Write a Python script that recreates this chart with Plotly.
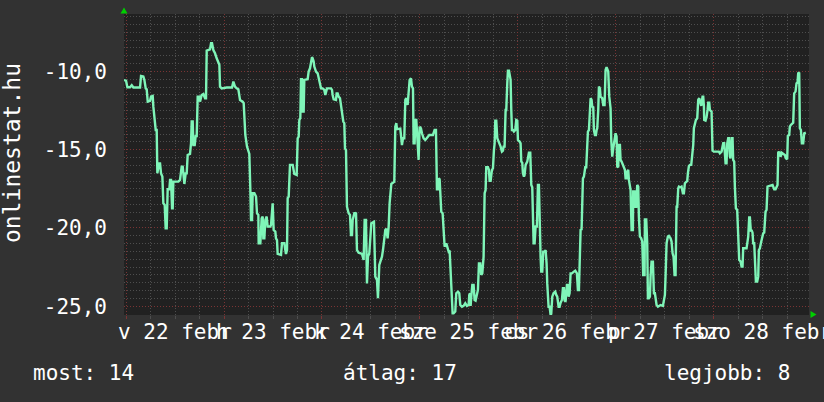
import pandas as pd
import plotly.graph_objects as go

# hours since 2015-02-22 00:00
hours = [
    -0.5, 0, 0.33, 0.98, 1.39, 1.8, 3.43, 3.67, 4.24, 4.49, 4.82, 5.06, 5.31, 5.88, 6.12, 6.53, 6.69, 6.94,
    7.27, 7.51, 7.67, 8.08, 8.33, 8.57, 8.9, 9.14, 9.47, 9.71, 9.96, 10.2, 10.61, 10.78, 11.02, 11.27, 11.43,
    11.59, 12.82, 13.22, 13.63, 13.88, 14.04, 14.29, 14.61, 14.86, 15.1, 15.67, 15.92, 16.08, 16.33, 16.49,
    16.82, 17.06, 17.31, 17.55, 17.96, 18.12, 18.53, 18.94, 19.35, 19.59, 19.76, 20.16, 20.57, 20.82, 21.06,
    21.39, 21.8, 22.2, 22.61, 22.86, 23.02, 23.43, 24.65, 25.96, 26.29, 26.69, 27.1, 27.51, 27.92,
    28.57, 28.82, 28.98, 29.22, 29.63, 29.96, 30.2, 30.45, 30.61, 30.86, 31.02, 31.43, 31.84, 32.08, 32.41,
    32.49, 32.9, 33.22, 33.47, 33.63, 33.88, 34.12, 34.45, 34.69, 35.35, 35.51, 35.76, 35.92, 36.16, 36.57,
    36.73, 36.98, 37.14, 37.96, 38.2, 38.78, 39.02, 39.18, 39.43, 39.59, 39.84, 40.16, 40.82, 41.22, 41.8,
    42.04, 42.29, 42.45, 42.69, 42.86, 43.1, 43.27, 43.51, 43.67, 44.49, 44.73, 45.06, 45.31, 45.55, 45.71,
    45.96, 46.12, 46.53, 46.94, 47.35, 47.76, 48.16, 48.57, 48.82, 48.98, 49.22, 50.2, 50.45, 50.61, 50.86,
    51.43, 51.59, 51.84, 52.08, 52.41, 52.65, 52.9, 53.22, 53.47, 53.63, 53.88, 54.12, 54.53, 54.86, 55.1,
    55.35, 55.51, 55.92, 56.16,
    56.33, 56.57, 56.98, 57.8, 58.2, 58.45, 58.78, 59.02, 59.27, 59.59, 59.84, 60.08, 60.73, 61.06, 61.47,
    61.71, 62.04, 62.29, 62.69, 62.94, 63.27, 63.51, 63.76, 64.08, 64.33, 64.57, 64.98, 65.31, 65.71, 65.96,
    66.2, 66.37, 67.18, 67.43, 67.59, 67.84, 68.16, 68.41, 68.65, 68.98, 69.22, 69.47, 69.8, 70.04, 70.29,
    70.45, 70.69, 70.86, 71.1, 71.35, 71.51, 71.67, 71.92, 72.24, 72.49, 72.9, 73.31, 73.96, 74.29, 75.18,
    75.59, 75.92, 76.16, 76.41, 76.57, 76.82, 76.98, 77.22, 77.55, 77.8, 78.04, 78.45, 78.78, 79.02, 79.27,
    79.67, 80.0, 80.24, 80.65, 80.9, 81.31, 81.63, 81.88, 82.29, 82.69, 83.1, 83.51, 83.92, 84.08, 84.33,
    84.41, 84.57, 84.82, 85.14, 85.39, 85.63, 85.96, 86.2, 86.45, 86.78, 87.02, 87.27, 87.59, 87.84, 88.08,
    88.24, 88.65, 88.9, 89.06, 89.31, 89.63, 89.88, 90.12, 90.29, 90.45, 90.69, 90.94, 91.27, 91.51, 91.76,
    92.08, 92.33, 92.49, 92.73, 92.98, 93.14, 93.39, 93.55, 93.8, 94.04, 94.2, 94.37, 94.53, 94.78, 95.02,
    95.35, 95.59, 95.84, 96.0, 96.41, 96.65, 96.82, 97.06, 97.22, 97.47, 97.63, 97.88, 98.29, 98.69, 99.02,
    99.27, 99.51, 99.67, 99.84, 100.08, 100.33, 100.65, 100.9, 101.14, 101.31, 101.55, 101.71, 101.96,
    102.2, 102.53, 102.78, 103.02, 103.18, 103.51, 103.76, 104.0, 104.16, 104.41, 104.73, 105.14, 105.39,
    105.63, 105.96, 106.2, 106.45, 106.78, 107.02, 107.27, 107.43, 107.67, 108.0, 108.24, 108.41, 108.65,
    108.9, 109.22, 109.71, 110.04, 110.45, 110.69, 110.94, 111.1, 111.35, 111.59, 111.92, 112.16, 112.49,
    112.73,
    112.82, 113.14, 113.39, 113.63, 113.8, 114.04, 114.2, 114.45, 114.61, 114.86, 115.1, 115.27, 115.43,
    115.67, 115.84, 116.08, 116.24, 116.65, 116.9, 117.22, 117.47, 117.71, 117.88, 118.12, 118.37, 118.69,
    118.86, 119.1, 119.35, 119.67, 119.92, 120.16, 120.33, 120.57, 120.73, 120.98, 121.14, 121.39, 121.71,
    121.96, 122.2, 122.37, 122.61, 122.78, 123.02, 123.18, 123.43, 123.59, 123.84, 124.16, 124.24, 124.57,
    124.73, 124.98, 125.22, 125.47, 125.63, 125.88, 126.2, 126.45, 126.69, 127.02, 127.1, 127.43, 127.67,
    127.84, 128.08, 128.33, 128.49, 128.73, 129.06, 129.31, 129.55, 129.71, 129.96, 130.29, 130.94, 131.51,
    131.76, 132.0, 132.16, 132.41, 132.73, 132.98, 133.39, 133.63, 133.88, 134.12, 134.37, 134.61, 134.86,
    135.02, 135.27, 135.43, 135.84, 136.08, 136.41, 136.65, 136.9, 137.22, 137.47, 137.63, 137.88, 138.12,
    138.45, 138.69, 138.94, 139.1, 139.35, 139.59, 139.92, 140.16, 140.41, 140.73, 140.9,
    141.22, 141.39, 141.55, 141.63, 141.96, 142.2, 142.45, 142.61, 142.86, 143.02, 143.43, 143.67, 144.0,
    144.65, 145.22, 145.47, 145.88, 146.12, 146.29, 146.53, 146.69, 146.86, 147.1, 147.27, 147.51, 147.67,
    147.92, 148.08, 148.33, 148.57, 148.73, 148.98, 149.14, 149.39, 149.71, 149.96, 150.2, 150.53, 150.78,
    151.02, 151.18, 152.0, 152.24, 152.41, 152.65, 152.82, 153.06, 153.22, 153.47, 153.63, 153.88, 154.04,
    154.29, 154.61, 154.86, 155.02, 155.27, 155.51, 155.84, 156.08, 156.33, 156.65, 156.9, 157.14, 157.47,
    158.12, 158.37, 158.53, 158.78, 159.1, 159.35, 159.59, 159.76, 159.92, 160.16, 160.41, 160.57, 160.98,
    161.39, 161.63, 161.96, 162.12, 162.45, 162.61, 162.86, 163.43, 163.67, 164.0, 164.24, 164.49, 164.65,
    164.9, 165.06, 165.31, 165.55, 165.88, 166.12, 166.53,
]

values = [
    -10.55, -10.59, -11.01, -11.01, -10.88, -11.03, -11.03, -10.29, -10.33, -10.54, -11.08, -11.14, -11.93,
    -11.88, -11.61, -11.57, -12.25, -12.84, -13.74, -13.74, -16.51, -15.87, -15.87, -16.51, -16.72, -18.42,
    -18.53, -20.02, -20.02, -17.53, -17.53, -16.93, -16.93, -18.74, -18.74, -17.04, -17.04, -16.93, -16.08,
    -16.08, -16.83, -17.19, -16.51, -16.51, -15.34, -15.27, -14.59, -13.2, -13.2, -14.7, -14.7, -14.12,
    -14.12, -11.61, -11.61, -11.93, -11.5, -11.44, -11.71, -11.71, -8.67, -8.63, -8.59, -8.2, -8.2, -8.63,
    -8.84, -9.16, -9.48, -9.58, -10.97, -11.08, -11.03, -11.03, -10.65, -10.97, -11.08, -11.14, -11.82,
    -11.93, -12.03, -12.89, -14.06, -14.8, -15.12, -15.27, -17.57, -19.49, -19.49, -17.78, -17.78, -17.99,
    -19.06, -19.17, -20.98, -20.98, -19.38, -19.27, -20.66, -20.66, -19.49, -19.27, -19.91, -19.91, -19.81,
    -18.42, -18.42, -20.13, -20.23, -20.66, -20.77, -21.66, -21.72, -20.98, -20.98, -21.41, -21.66, -21.41,
    -18.1, -18.0, -15.97, -15.97, -16.55, -16.61, -14.27, -14.16, -13.1, -12.99, -10.5, -10.5, -12.57,
    -12.57, -10.54, -10.5, -10.01, -9.8, -9.48, -9.09, -9.16, -9.37, -9.69, -10.01, -10.12, -10.54, -11.08,
    -11.08, -11.18, -11.5, -11.29, -11.08, -11.08, -11.18, -11.5, -11.78, -11.82, -11.4, -11.4, -11.61,
    -11.71, -12.14, -12.46, -13.2, -13.31, -14.91, -15.02, -18.64, -19.06, -19.17, -20.45, -20.45, -19.49,
    -19.06, -19.06,
    -19.02, -21.41, -21.58, -21.66, -22.04, -19.49, -19.49, -23.54, -21.83, -21.62, -20.34, -19.7, -19.6,
    -23.11, -23.32, -24.49, -22.36, -22.15, -21.83, -21.41, -20.55, -20.13, -20.04, -20.66, -19.91, -18.42,
    -17.19, -17.1, -17.04, -13.53, -13.31, -13.69, -13.65, -14.27, -14.7, -14.27, -14.27, -11.82, -11.71,
    -12.14, -11.5, -10.54, -10.44, -10.97, -11.08, -14.59, -14.59, -13.1, -13.1, -14.59, -15.65, -15.65,
    -13.53, -13.63, -13.95, -14.27, -14.38, -14.16, -14.06, -14.06, -13.74, -13.74, -17.53, -17.53, -16.82,
    -16.89, -17.57, -18.96, -19.06, -20.02, -21.19, -20.98, -21.3, -21.51, -21.45, -23.75, -25.45, -25.45,
    -25.34, -24.17, -24.07, -24.17, -24.92, -25.03, -24.98, -24.81, -24.98, -24.92, -24.28, -24.17,
    -24.98, -24.39, -23.64, -23.64, -24.6, -24.64, -24.17, -23.96, -22.26, -22.26, -23.0, -22.9, -21.83,
    -17.78, -17.57, -16.12, -16.12, -16.29, -16.98, -16.98, -16.29, -16.19, -15.02, -14.59, -13.14, -13.14,
    -14.27, -14.48, -14.7, -14.8, -15.12, -15.06, -14.8, -14.8, -12.46, -12.46, -10.76, -9.95, -9.95,
    -10.54, -10.54, -12.46, -13.74, -13.74, -13.84, -13.74, -13.1, -13.14, -14.38, -14.48, -14.59, -15.76,
    -15.83, -16.51, -16.72, -16.61, -15.97, -15.76, -15.19, -15.19, -17.25, -17.4, -18.96, -20.98, -20.98,
    -19.91, -19.91, -17.25, -17.25, -19.91, -21.83, -22.79, -22.79, -21.51, -21.51, -21.41, -22.26, -23.54,
    -25.03, -25.03, -25.56, -25.49, -24.39, -24.17, -24.07, -24.28, -24.39, -25.03, -25.03, -24.77, -24.6,
    -23.85, -23.85, -24.64, -24.71, -23.64, -23.64, -24.39, -24.17, -22.9, -22.9, -22.79, -22.73, -22.9,
    -23.96, -23.96, -22.26, -20.13, -20.09, -16.83, -16.72, -16.12, -16.12,
    -15.23, -13.84, -13.74, -12.67, -11.71, -11.82, -12.25, -12.29, -13.74, -14.06, -14.06, -13.74, -13.63,
    -12.46, -10.97, -11.08, -11.61, -11.71, -12.14, -12.14, -9.9, -9.73, -9.9, -10.01, -11.61, -12.35,
    -14.38, -15.44, -14.91, -14.48, -13.95, -14.16, -16.08, -16.12, -14.7, -14.7, -15.65, -15.76, -15.97,
    -16.08, -16.29, -16.83, -16.83, -16.4, -16.29, -16.93, -17.46, -17.57, -20.13, -20.13, -17.67, -17.67,
    -18.64, -18.64, -17.25, -17.36, -19.28, -20.55, -20.66, -20.87, -23.0, -23.0, -19.45, -19.45, -20.98,
    -24.49, -24.49, -24.39, -23.11, -22.15, -22.15, -24.17, -24.17, -24.6, -24.92, -25.03, -24.92, -24.98,
    -24.49, -24.28, -23.11, -20.98, -20.55, -20.51, -20.66, -20.87, -21.62, -21.83, -23.0, -23.0, -18.64,
    -18.64, -17.46, -17.36, -17.4, -17.36, -17.78, -17.78, -17.14, -17.04, -16.99, -16.51, -16.04, -15.97,
    -15.97, -15.34, -14.7, -13.63, -13.2, -13.1, -12.99, -11.82, -11.71, -12.03, -12.2,
    -11.61, -11.61, -12.2, -13.1, -13.14, -12.93, -12.46, -11.99, -11.99, -12.46, -12.57, -15.06, -15.12,
    -15.12, -15.12, -15.23, -15.12, -14.8, -14.59, -14.59, -15.23, -15.87, -15.87, -14.59, -14.27, -14.27,
    -15.44, -15.55, -14.27, -14.27, -15.65, -15.76, -17.36, -18.74, -18.85, -20.13, -22.04, -22.15, -22.47,
    -22.47, -21.3, -21.3, -20.98, -20.55, -19.32, -19.32, -20.23, -20.13, -20.3, -20.98, -20.98, -22.04,
    -23.43, -23.43, -23.11, -21.41, -21.3, -20.98, -20.55, -20.34, -20.3, -18.96, -18.85, -17.36, -17.32,
    -17.25, -17.25, -17.36, -17.53, -17.53, -17.36, -17.25, -15.19, -15.12, -15.34, -15.44, -15.19, -15.27,
    -15.34, -15.55, -15.61, -14.12, -14.06, -13.53, -13.42, -13.27, -11.4, -11.29, -10.76, -10.71, -10.12,
    -10.07, -13.63, -13.74, -14.59, -14.59, -13.95, -13.91,
]

day_labels = ["v 22 febr", "h 23 febr", "k 24 febr", "sze 25 febr", "cs 26 febr", "p 27 febr", "szo 28 febr"]
y_tick_vals = [-25, -20, -15, -10]
y_tick_text = ["-25,0", "-20,0", "-15,0", "-10,0"]
stats_labels = ["most: 14", "átlag: 17", "legjobb: 8"]
y_title = "onlinestat.hu"

base = pd.Timestamp("2015-02-22 00:00")
times = [base + pd.Timedelta(hours=h) for h in hours]

FONT = "DejaVu Sans Mono"
FS = 21
BG = "#323232"
PLOT_BG = "#212121"
LINE = "#7ff5b8"
MINOR = "#4e4e4e"
MAJOR = "#7a3434"

fig = go.Figure()
fig.add_trace(go.Scatter(x=times, y=values, mode="lines",
                         line=dict(color=LINE, width=2.4), hoverinfo="skip"))

W, H = 824, 402
L, R, T, B = 124, 15, 14, 87
pw, ph = W - L - R, H - T - B

def px(x):
    return (x - L) / pw

def py(y):
    return (H - B - y) / ph

x_start = base + pd.Timedelta(hours=-0.5)
x_end = base + pd.Timedelta(hours=167.3)

fig.update_layout(
    width=W, height=H,
    margin=dict(l=L, r=R, t=T, b=B),
    paper_bgcolor=BG, plot_bgcolor=PLOT_BG,
    showlegend=False,
    font=dict(family=FONT, color="white", size=FS),
    xaxis=dict(
        type="date", range=[x_start, x_end],
        tick0=base, dtick=86400000,
        showgrid=True, gridcolor=MAJOR, griddash="1px,2px", gridwidth=1,
        showticklabels=False, ticks="outside", ticklen=3, tickcolor=MAJOR,
        minor=dict(dtick=6 * 3600000, showgrid=True, gridcolor=MINOR, griddash="1px,2px",
                   ticks="outside", ticklen=3, tickcolor=MINOR),
        zeroline=False, showline=False, fixedrange=True,
    ),
    yaxis=dict(
        range=[-25.56, -6.33],
        tickmode="array", tickvals=y_tick_vals, ticktext=y_tick_text,
        showgrid=True, gridcolor=MAJOR, griddash="1px,2px", gridwidth=1,
        ticks="", ticklabelstandoff=16,
        tickfont=dict(family=FONT, size=FS, color="white"),
        minor=dict(tick0=-25, dtick=0.5, showgrid=True, gridcolor=MINOR, griddash="1px,2px"),
        zeroline=False, showline=False, fixedrange=True,
    ),
)

annotations = []
for i, lab in enumerate(day_labels):
    annotations.append(dict(
        x=base + pd.Timedelta(hours=24 * i + 12), xref="x",
        y=py(332), yref="paper", text=lab, showarrow=False,
        xanchor="center", yanchor="middle",
        font=dict(family=FONT, size=FS, color="white"),
    ))
for lab, xl in zip(stats_labels, [31, 341, 662]):
    annotations.append(dict(
        x=px(xl), xref="paper", y=py(373), yref="paper", text=lab, showarrow=False,
        xanchor="left", yanchor="middle",
        font=dict(family=FONT, size=FS, color="white"),
    ))
annotations.append(dict(
    x=px(12), xref="paper", y=py(153), yref="paper", text=y_title, showarrow=False,
    textangle=-90, xanchor="center", yanchor="middle",
    font=dict(family=FONT, size=23, color="white"),
))
fig.update_layout(annotations=annotations)

def tri(pts):
    return "M " + " L ".join(f"{px(a):.5f},{py(b):.5f}" for a, b in pts) + " Z"

fig.add_shape(type="path", xref="paper", yref="paper",
              path=tri([(124, 7.5), (120.5, 13.5), (127.5, 13.5)]),
              fillcolor="#00d000", line=dict(width=0))
fig.add_shape(type="path", xref="paper", yref="paper",
              path=tri([(816.5, 314.5), (810.5, 311), (810.5, 318)]),
              fillcolor="#00d000", line=dict(width=0))

fig.write_html(
    "out.html",
    config={"displayModeBar": False, "staticPlot": True},
    post_script="document.body.style.margin='0';document.body.style.padding='0';"
                "document.body.style.overflow='hidden';document.body.style.background='#323232';",
)
